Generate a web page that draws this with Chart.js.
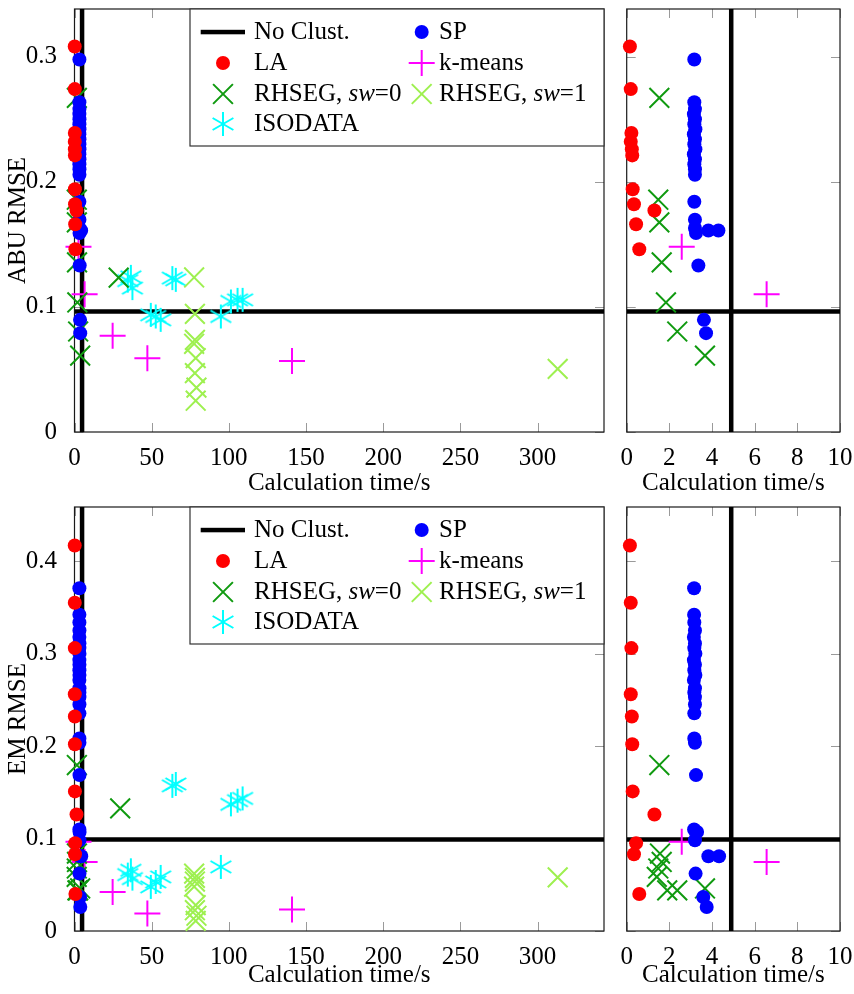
<!DOCTYPE html>
<html lang="en">
<head>
<meta charset="UTF-8">
<title>RMSE vs calculation time</title>
<script src="https://cdn.jsdelivr.net/npm/chart.js@4"></script>
<style>
  html, body { margin: 0; padding: 0; background: #fff; overflow: hidden; }
  #wrap { position: relative; width: 854px; height: 994px; }
  canvas { position: absolute; }
</style>
</head>
<body>
<div id="wrap">
  <canvas id="abuFull" width="612" height="500" style="left:0;top:0"></canvas>
  <canvas id="abuZoom" width="242" height="500" style="left:612px;top:0"></canvas>
  <canvas id="emFull" width="612" height="496" style="left:0;top:498px"></canvas>
  <canvas id="emZoom" width="242" height="496" style="left:612px;top:498px"></canvas>
</div>
<script>
// ---- axes ----
const fullTimeTicks = [0, 50, 100, 150, 200, 250, 300];
const zoomTimeTicks = [0, 2, 4, 6, 8, 10];
const abuTicks = [0, 0.1, 0.2, 0.3];
const emTicks = [0, 0.1, 0.2, 0.3, 0.4];

// ---- reference (no clustering) ----
const noClustTime = 4.9;
const noClustAbu = 0.0962;
const noClustEm = 0.099;

// ---- LA ----
const laTime = [0.15, 0.19, 0.22, 0.19, 0.24, 0.26, 0.28, 0.34, 0.44, 0.59, 1.3];
const laAbu  = [0.308, 0.274, 0.239, 0.232, 0.226, 0.221, 0.194, 0.182, 0.166, 0.146, 0.177];
const laEm   = [0.417, 0.355, 0.306, 0.256, 0.232, 0.202, 0.151, 0.083, 0.095, 0.040, 0.126];

// ---- SP ----
const spTimeAbu = [3.17, 3.17, 3.2, 3.15, 3.2, 3.17, 3.22, 3.15, 3.2, 3.17, 3.22, 3.15, 3.2, 3.17, 3.2, 3.2,
                   3.17, 3.2, 3.2, 3.25, 3.83, 4.3, 3.36, 3.62, 3.72];
const spAbu = [0.2976, 0.2635, 0.258, 0.254, 0.250, 0.246, 0.242, 0.238, 0.234, 0.230, 0.226, 0.222, 0.218, 0.214, 0.210, 0.2056,
               0.184, 0.1696, 0.163, 0.159, 0.161, 0.161, 0.133, 0.0896, 0.079];
const spTimeEm = [3.16, 3.16, 3.17, 3.2, 3.15, 3.2, 3.17, 3.22, 3.15, 3.2, 3.17, 3.22, 3.15, 3.2, 3.17, 3.2, 3.2, 3.17,
                  3.17, 3.2, 3.25, 3.16, 3.3, 3.2, 3.83, 4.33, 3.23, 3.59, 3.75];
const spEm = [0.3708, 0.342, 0.3336, 0.325, 0.318, 0.311, 0.306, 0.300, 0.293, 0.288, 0.282, 0.277, 0.2716, 0.2625, 0.258, 0.253, 0.245, 0.2354,
              0.2083, 0.2036, 0.1686, 0.1098, 0.1072, 0.0982, 0.0809, 0.0809, 0.0621, 0.0368, 0.026];

// ---- k-means ----
const kmTime = [2.58, 6.56, 24.7, 47.2, 140.9];
const kmAbu  = [0.148, 0.110, 0.077, 0.059, 0.0568];
const kmEm   = [0.0964, 0.0747, 0.0423, 0.0190, 0.0232];

// ---- RHSEG, sw=0 ----
const rh0TimeAbu = [1.53, 1.48, 1.53, 1.64, 1.84, 2.37, 3.67, 28.6];
const rh0Abu     = [0.267, 0.1856, 0.1675, 0.1355, 0.1035, 0.0803, 0.061, 0.1234];
const rh0TimeEm  = [1.53, 1.56, 1.64, 1.48, 1.41, 1.9, 2.37, 3.67, 29.6];
const rh0Em      = [0.1795, 0.0838, 0.0747, 0.0676, 0.0585, 0.044, 0.044, 0.046, 0.1326];

// ---- RHSEG, sw=1 ----
const rh1Time = [77.5, 78, 78, 77.5, 78.5, 78, 79, 78.5, 313];
const rh1Abu  = [0.1235, 0.0944, 0.0736, 0.0705, 0.0590, 0.0470, 0.0355, 0.0250, 0.0504];
const rh1Em   = [0.0620, 0.0575, 0.0535, 0.0480, 0.0280, 0.0225, 0.0165, 0.0110, 0.0580];

// ---- ISODATA ----
const isoTime = [34.5, 36.5, 37.5, 49.4, 52.6, 55.8, 63.4, 65.6, 94.8, 101.3, 105.6, 108.9];
const isoAbu  = [0.121, 0.124, 0.115, 0.0936, 0.0923, 0.0896, 0.123, 0.1216, 0.0923, 0.1043, 0.1056, 0.1056];
const isoEm   = [0.0610, 0.0657, 0.0567, 0.0477, 0.053, 0.0585, 0.157, 0.159, 0.0693, 0.137, 0.141, 0.1434];

const FONT_FAMILY = '"Liberation Serif", "Times New Roman", serif';
const FONT_SIZE = 25;

// six-armed asterisk (pgf style), drawn once and reused as a point image
function makeAsterisk(r, color, lw) {
  const c = document.createElement('canvas');
  const s = Math.ceil(2 * r + lw + 2);
  c.width = s; c.height = s;
  const g = c.getContext('2d');
  g.strokeStyle = color; g.lineWidth = lw; g.lineCap = 'butt';
  g.beginPath();
  [90, 30, 150].forEach(a => {
    const rad = a * Math.PI / 180;
    const dx = Math.cos(rad) * r, dy = Math.sin(rad) * r;
    g.moveTo(s / 2 - dx, s / 2 - dy);
    g.lineTo(s / 2 + dx, s / 2 + dy);
  });
  g.stroke();
  return c;
}
const asterisk = makeAsterisk(12, '#00ffff', 2);

const marks = {
  la:   { pointStyle: 'circle', pointRadius: 7, pointBackgroundColor: '#ff0000', pointBorderWidth: 0 },
  sp:   { pointStyle: 'circle', pointRadius: 7, pointBackgroundColor: '#0000ff', pointBorderWidth: 0 },
  km:   { pointStyle: 'cross', pointRadius: 13, pointBorderColor: '#ff00ff', pointBorderWidth: 2 },
  rh0:  { pointStyle: 'crossRot', pointRadius: 14, pointBorderColor: '#109a10', pointBorderWidth: 2 },
  rh1:  { pointStyle: 'crossRot', pointRadius: 14, pointBorderColor: '#9ef050', pointBorderWidth: 2 },
  iso:  { pointStyle: asterisk, pointRadius: 12 }
};

const pts = (xs, ys) => xs.map((x, i) => ({ x, y: ys[i] }));

function markerSets(which, clip) {
  const abu = which === 'abu';
  return [
    { data: pts(laTime, abu ? laAbu : laEm), ...marks.la },
    { data: pts(abu ? spTimeAbu : spTimeEm, abu ? spAbu : spEm), ...marks.sp },
    { data: pts(abu ? rh0TimeAbu : rh0TimeEm, abu ? rh0Abu : rh0Em), ...marks.rh0 },
    { data: pts(rh1Time, abu ? rh1Abu : rh1Em), ...marks.rh1 },
    { data: pts(isoTime, abu ? isoAbu : isoEm), ...marks.iso },
    { data: pts(kmTime, abu ? kmAbu : kmEm), ...marks.km }
  ].map(d => ({ ...d, clip }));
}

function noClustSets(xMin, xMax, yMax, level) {
  const line = { type: 'line', showLine: true, borderColor: '#000', borderWidth: 4.5, pointRadius: 0, order: 1 };
  return [
    { ...line, data: [{ x: noClustTime, y: 0 }, { x: noClustTime, y: yMax }] },
    { ...line, data: [{ x: xMin, y: level }, { x: xMax, y: level }] }
  ];
}

// frame on all four sides with grey inward ticks
const TICK = 9;
const frameTicks = {
  id: 'frameTicks',
  beforeDatasetsDraw(chart) {
    const { ctx, chartArea: a, scales: { x, y } } = chart;
    ctx.save();
    ctx.strokeStyle = '#9a9a9a';
    ctx.lineWidth = 1;
    ctx.beginPath();
    x.ticks.forEach(t => {
      const p = Math.round(x.getPixelForValue(t.value)) + 0.5;
      ctx.moveTo(p, a.bottom); ctx.lineTo(p, a.bottom - TICK);
      ctx.moveTo(p, a.top); ctx.lineTo(p, a.top + TICK);
    });
    y.ticks.forEach(t => {
      const p = Math.round(y.getPixelForValue(t.value)) + 0.5;
      ctx.moveTo(a.left, p); ctx.lineTo(a.left + TICK, p);
      ctx.moveTo(a.right, p); ctx.lineTo(a.right - TICK, p);
    });
    ctx.stroke();
    ctx.strokeStyle = '#1a1a1a';
    ctx.lineWidth = 1.2;
    ctx.strokeRect(a.left, a.top, a.right - a.left, a.bottom - a.top);
    ctx.restore();
  }
};

// two-column legend box in the upper right corner of the wide panels
const legendItems = [
  { col: 0, row: 0, kind: 'line', text: [['No Clust.', false]] },
  { col: 1, row: 0, kind: 'sp', text: [['SP', false]] },
  { col: 0, row: 1, kind: 'la', text: [['LA', false]] },
  { col: 1, row: 1, kind: 'km', text: [['k-means', false]] },
  { col: 0, row: 2, kind: 'rh0', text: [['RHSEG, ', false], ['sw', true], ['=0', false]] },
  { col: 1, row: 2, kind: 'rh1', text: [['RHSEG, ', false], ['sw', true], ['=1', false]] },
  { col: 0, row: 3, kind: 'iso', text: [['ISODATA', false]] }
];

function drawMark(ctx, kind, x, y) {
  const m = marks[kind];
  ctx.save();
  if (m.pointStyle === 'circle') {
    ctx.fillStyle = m.pointBackgroundColor;
    ctx.beginPath(); ctx.arc(x, y, m.pointRadius, 0, Math.PI * 2); ctx.fill();
  } else if (m.pointStyle === 'cross' || m.pointStyle === 'crossRot') {
    const r = m.pointStyle === 'cross' ? m.pointRadius : m.pointRadius * Math.SQRT1_2;
    ctx.strokeStyle = m.pointBorderColor; ctx.lineWidth = m.pointBorderWidth;
    ctx.beginPath();
    if (m.pointStyle === 'cross') {
      ctx.moveTo(x - r, y); ctx.lineTo(x + r, y); ctx.moveTo(x, y - r); ctx.lineTo(x, y + r);
    } else {
      ctx.moveTo(x - r, y - r); ctx.lineTo(x + r, y + r); ctx.moveTo(x + r, y - r); ctx.lineTo(x - r, y + r);
    }
    ctx.stroke();
  } else {
    ctx.drawImage(m.pointStyle, x - m.pointStyle.width / 2, y - m.pointStyle.height / 2);
  }
  ctx.restore();
}

const panelLegend = {
  id: 'panelLegend',
  afterDraw(chart, args, opts) {
    if (!opts.show) return;
    const { ctx, chartArea: a } = chart;
    const boxW = 414, boxH = 137;
    const left = a.right - boxW, top = a.top;
    ctx.save();
    ctx.fillStyle = '#fff';
    ctx.fillRect(left, top, boxW, boxH);
    ctx.strokeStyle = '#333';
    ctx.lineWidth = 1.2;
    ctx.strokeRect(left, top, boxW, boxH);
    const rowY = [23, 54, 85, 115];
    const markX = [left + 33, left + 231.7];
    const textX = [left + 64, left + 249];
    ctx.textBaseline = 'middle';
    legendItems.forEach(it => {
      const y = top + rowY[it.row];
      if (it.kind === 'line') {
        ctx.fillStyle = '#000';
        ctx.fillRect(left + 10.7, y - 2.2, 44.3, 4.5);
      } else {
        drawMark(ctx, it.kind, markX[it.col], y);
      }
      let x = textX[it.col];
      it.text.forEach(([s, italic]) => {
        ctx.font = (italic ? 'italic ' : '') + FONT_SIZE + 'px ' + FONT_FAMILY;
        ctx.fillStyle = '#000';
        ctx.fillText(s, x, y);
        x += ctx.measureText(s).width;
      });
    });
    ctx.restore();
  }
};

function panel(id, o) {
  const canvas = document.getElementById(id);
  const W = canvas.width, H = canvas.height;
  const font = { family: FONT_FAMILY, size: FONT_SIZE };
  return new Chart(canvas, {
    type: 'scatter',
    data: {
      datasets: [
        ...markerSets(o.which, o.clip),
        ...noClustSets(o.xMin, o.xMax, o.yMax, o.which === 'abu' ? noClustAbu : noClustEm)
      ]
    },
    options: {
      responsive: false,
      animation: false,
      events: [],
      layout: { autoPadding: false, padding: { left: 0, top: o.top, right: W - o.right, bottom: 0 } },
      plugins: {
        legend: { display: false },
        tooltip: { enabled: false },
        panelLegend: { show: !!o.legend }
      },
      scales: {
        x: {
          type: 'linear', min: o.xMin, max: o.xMax,
          grid: { display: false },
          border: { display: false },
          ticks: { font, color: '#000', padding: 3, maxRotation: 0 },
          afterBuildTicks: s => { s.ticks = o.xTicks.map(v => ({ value: v })); },
          afterFit: s => { s.height = H - o.bottom; s.paddingLeft = 0; s.paddingRight = 0; },
          title: { display: true, text: 'Calculation time/s', font, color: '#000', padding: { top: 0, bottom: o.titlePad } }
        },
        y: {
          type: 'linear', min: 0, max: o.yMax,
          grid: { display: false },
          border: { display: false },
          ticks: { font, color: '#000', padding: 9.5, display: !!o.yLabel },
          afterBuildTicks: s => { s.ticks = o.yTicks.map(v => ({ value: v })); },
          afterFit: s => { s.width = o.left; s.paddingTop = 0; s.paddingBottom = 0; },
          title: { display: !!o.yLabel, text: o.yLabel || '', font, color: '#000', padding: { top: 3, bottom: 0 } }
        }
      }
    },
    plugins: [frameTicks, panelLegend]
  });
}

const fullClip = { left: 10, top: 10, right: 10, bottom: 10 };
const zoomClip = { left: 10, top: 10, right: 0, bottom: 10 };

panel('abuFull', { which: 'abu', left: 74.5, right: 604, top: 9, bottom: 432, xMin: 0, xMax: 343,
  xTicks: fullTimeTicks, yMax: 0.338, yTicks: abuTicks, yLabel: 'ABU RMSE', legend: true, titlePad: 2, clip: fullClip });
panel('abuZoom', { which: 'abu', left: 14.7, right: 228, top: 9, bottom: 432, xMin: 0, xMax: 10,
  xTicks: zoomTimeTicks, yMax: 0.338, yTicks: abuTicks, titlePad: 2, clip: zoomClip });
panel('emFull', { which: 'em', left: 74.5, right: 604, top: 9, bottom: 433, xMin: 0, xMax: 343,
  xTicks: fullTimeTicks, yMax: 0.4586, yTicks: emTicks, yLabel: 'EM RMSE', legend: true, titlePad: 4, clip: fullClip });
panel('emZoom', { which: 'em', left: 14.7, right: 228, top: 9, bottom: 433, xMin: 0, xMax: 10,
  xTicks: zoomTimeTicks, yMax: 0.4586, yTicks: emTicks, titlePad: 4, clip: zoomClip });
</script>
</body>
</html>
